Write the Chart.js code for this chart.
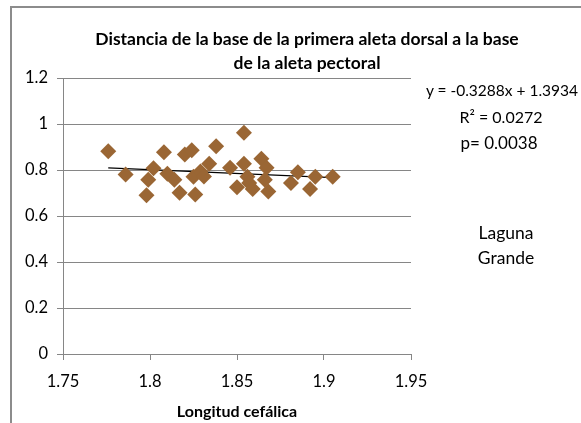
<!DOCTYPE html>
<html>
<head>
<meta charset="utf-8">
<script src="https://cdn.jsdelivr.net/npm/chart.js@4"></script>
<style>
  body { margin: 0; background: #fff; }
  #wrap { position: relative; width: 581px; height: 423px; overflow: hidden; font-family: Lato, "Open Sans", sans-serif; color: #000; }
  #frame { position: absolute; left: 10px; top: 6px; width: 700px; height: 500px; border-top: 2px solid #8c8c8c; border-left: 2px solid #8c8c8c; }
  canvas { position: absolute; left: 0; top: 0; }
  .t { position: absolute; white-space: nowrap; transform: translate(-50%, -50%); }
  .title { font-weight: bold; font-size: 17.5px; }
</style>
</head>
<body>
<div id="wrap">
  <div id="frame"></div>
  <canvas id="chart" width="581" height="423"></canvas>
  <div class="t title" style="left:307px; top:38px;">Distancia de la base de la primera aleta dorsal a la base</div>
  <div class="t title" style="left:307px; top:62px;">de la aleta pectoral</div>
  <div class="t" style="left:502px; top:90px; font-size:15.5px;">y = -0.3288x + 1.3934</div>
  <div class="t" style="left:501px; top:116px; font-size:16px;">R² = 0.0272</div>
  <div class="t" style="left:499px; top:142px; font-size:17px;">p= 0.0038</div>
  <div class="t" style="left:506px; top:232px; font-size:17.5px;">Laguna</div>
  <div class="t" style="left:506px; top:257px; font-size:17.5px;">Grande</div>
</div>
<script>
// Longitud cefálica vs distancia aleta dorsal - aleta pectoral (Laguna Grande)
const longitud = [1.776, 1.786, 1.799, 1.798, 1.802, 1.808, 1.810, 1.814, 1.817, 1.820, 1.824,
  1.825, 1.826, 1.829, 1.831, 1.834, 1.838, 1.846, 1.850, 1.854, 1.854, 1.856, 1.857,
  1.859, 1.864, 1.867, 1.866, 1.868, 1.885, 1.881, 1.895, 1.892, 1.905];
const distancia = [0.881, 0.780, 0.758, 0.690, 0.808, 0.877, 0.784, 0.758, 0.701, 0.867, 0.886,
  0.771, 0.693, 0.794, 0.772, 0.827, 0.903, 0.810, 0.725, 0.962, 0.827, 0.771, 0.743,
  0.717, 0.849, 0.810, 0.758, 0.707, 0.790, 0.743, 0.771, 0.717, 0.771];
const slope = -0.3288;
const intercept = 1.3934;
const xTickLabels = ['1.75', '1.8', '1.85', '1.9', '1.95'];
const yTickLabels = ['0', '0.2', '0.4', '0.6', '0.8', '1', '1.2'];

const points = longitud.map((x, i) => ({ x: x, y: distancia[i] }));
const xMin = Math.min(...longitud), xMax = Math.max(...longitud);
const trend = [xMin, xMax].map(x => ({ x: x, y: slope * x + intercept }));

const gray = '#868686';
Chart.defaults.font.family = 'Lato, "Open Sans", sans-serif';
Chart.defaults.color = '#000';

new Chart(document.getElementById('chart').getContext('2d'), {
  type: 'scatter',
  data: {
    datasets: [
      {
        label: 'Laguna Grande',
        data: points,
        pointStyle: 'rectRot',
        pointRadius: 8,
        pointHoverRadius: 8,
        backgroundColor: '#9a6634',
        borderColor: '#9a6634',
        borderWidth: 0
      },
      {
        label: 'Tendencia',
        type: 'line',
        data: trend,
        borderColor: '#000',
        borderWidth: 1.2,
        pointRadius: 0,
        fill: false
      }
    ]
  },
  options: {
    responsive: false,
    animation: false,
    layout: { padding: { left: 0, right: 170, top: 78, bottom: 0 } },
    plugins: { legend: { display: false }, tooltip: { enabled: false } },
    scales: {
      x: {
        type: 'linear',
        min: 1.75,
        max: 1.95,
        afterFit: s => { s.height = 69; },
        ticks: {
          stepSize: 0.05,
          padding: 12,
          font: { size: 16.5 },
          callback: (v, i) => xTickLabels[i]
        },
        grid: { drawOnChartArea: false, color: gray, tickLength: 6 },
        border: { color: gray },
        title: { display: true, text: 'Longitud cefálica', font: { size: 16, weight: 'bold' }, padding: { top: 0, bottom: 2 } }
      },
      y: {
        min: 0,
        max: 1.2,
        afterFit: s => { s.width = 63; },
        ticks: {
          stepSize: 0.2,
          padding: 9,
          font: { size: 16.5 },
          callback: (v, i) => yTickLabels[i]
        },
        grid: { color: gray, tickLength: 6 },
        border: { color: gray }
      }
    }
  }
});
</script>
</body>
</html>
